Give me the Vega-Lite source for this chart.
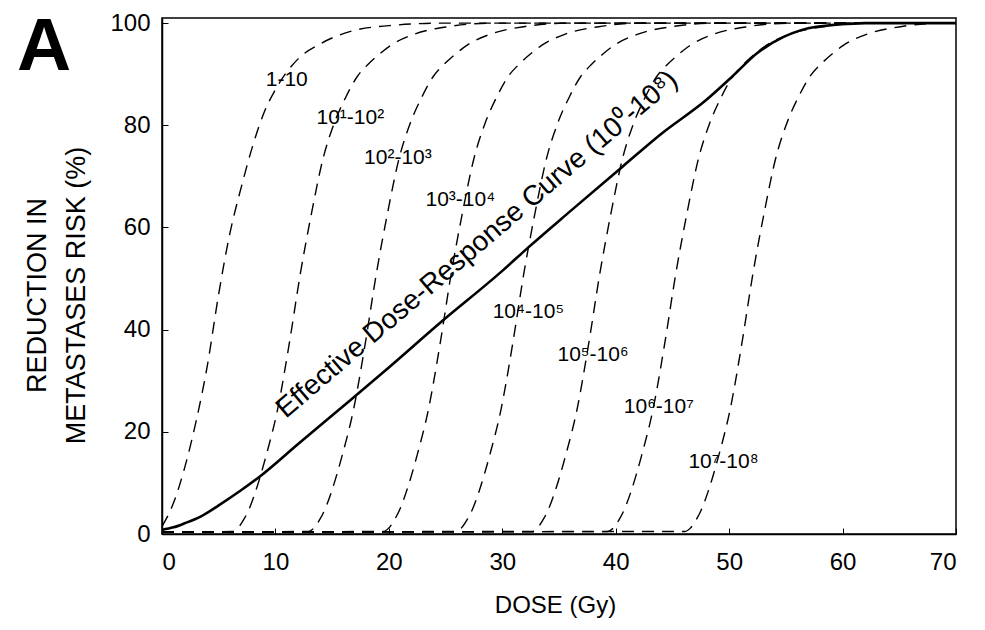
{
  "$schema": "https://vega.github.io/schema/vega-lite/v6.json",
  "autosize": {"type": "none"},
  "padding": {"left": 162, "top": 18, "right": 29, "bottom": 96},
  "width": 794,
  "height": 516,
  "background": "white",
  "title": {"text": "A", "fontSize": 75, "fontWeight": "bold", "font": "Liberation Sans", "color": "black", "anchor": "start", "frame": "group", "align": "center", "baseline": "alphabetic", "offset": -134, "dx": -118},
  "config": {
    "view": {"stroke": "black", "strokeWidth": 1.5},
    "font": "Liberation Sans",
    "axis": {"grid": false, "domainColor": "black", "domainWidth": 1.5, "tickColor": "black", "labelColor": "black", "titleColor": "black", "labelFont": "Liberation Sans", "titleFont": "Liberation Sans", "titleFontWeight": "normal", "labelFontSize": 24}
  },
  "datasets": {
    "curves": [
      {"s": "c1", "x": 0, "y": 1.5}, {"s": "c1", "x": 0.5, "y": 3.5}, {"s": "c1", "x": 1, "y": 6}, {"s": "c1", "x": 2, "y": 13}, {"s": "c1", "x": 3, "y": 22}, {"s": "c1", "x": 4, "y": 33}, {"s": "c1", "x": 5, "y": 47}, {"s": "c1", "x": 6, "y": 59}, {"s": "c1", "x": 7, "y": 68}, {"s": "c1", "x": 8, "y": 76}, {"s": "c1", "x": 9, "y": 82.5}, {"s": "c1", "x": 10, "y": 87}, {"s": "c1", "x": 12, "y": 93}, {"s": "c1", "x": 14, "y": 96}, {"s": "c1", "x": 17, "y": 98.6}, {"s": "c1", "x": 20, "y": 99.5}, {"s": "c1", "x": 25, "y": 100}, {"s": "c1", "x": 70, "y": 100},

      {"s": "c2", "x": 0, "y": 0.4}, {"s": "c2", "x": 6.2, "y": 0.5}, {"s": "c2", "x": 6.7, "y": 1.2}, {"s": "c2", "x": 7.2, "y": 2.8}, {"s": "c2", "x": 7.7, "y": 5}, {"s": "c2", "x": 8.2, "y": 8}, {"s": "c2", "x": 9.2, "y": 15.5}, {"s": "c2", "x": 10.2, "y": 24.5}, {"s": "c2", "x": 11.2, "y": 37}, {"s": "c2", "x": 12.2, "y": 51}, {"s": "c2", "x": 13.2, "y": 63}, {"s": "c2", "x": 14.2, "y": 73.5}, {"s": "c2", "x": 15.2, "y": 80.5}, {"s": "c2", "x": 16.2, "y": 85.5}, {"s": "c2", "x": 17.2, "y": 89.5}, {"s": "c2", "x": 18.2, "y": 92}, {"s": "c2", "x": 19.2, "y": 94}, {"s": "c2", "x": 20.2, "y": 95.7}, {"s": "c2", "x": 22.2, "y": 97.8}, {"s": "c2", "x": 25.2, "y": 99.3}, {"s": "c2", "x": 29.2, "y": 100}, {"s": "c2", "x": 70, "y": 100},

      {"s": "c3", "x": 0, "y": 0.4}, {"s": "c3", "x": 12.9, "y": 0.5}, {"s": "c3", "x": 13.4, "y": 1.2}, {"s": "c3", "x": 13.9, "y": 2.8}, {"s": "c3", "x": 14.4, "y": 5}, {"s": "c3", "x": 14.9, "y": 8}, {"s": "c3", "x": 15.9, "y": 15.5}, {"s": "c3", "x": 16.9, "y": 24.5}, {"s": "c3", "x": 17.9, "y": 37}, {"s": "c3", "x": 18.9, "y": 51}, {"s": "c3", "x": 19.9, "y": 63}, {"s": "c3", "x": 20.9, "y": 73.5}, {"s": "c3", "x": 21.9, "y": 80.5}, {"s": "c3", "x": 22.9, "y": 85.5}, {"s": "c3", "x": 23.9, "y": 89.5}, {"s": "c3", "x": 24.9, "y": 92}, {"s": "c3", "x": 25.9, "y": 94}, {"s": "c3", "x": 26.9, "y": 95.7}, {"s": "c3", "x": 28.9, "y": 97.8}, {"s": "c3", "x": 31.9, "y": 99.3}, {"s": "c3", "x": 35.9, "y": 100}, {"s": "c3", "x": 70, "y": 100},

      {"s": "c4", "x": 0, "y": 0.4}, {"s": "c4", "x": 19.5, "y": 0.5}, {"s": "c4", "x": 20, "y": 1.2}, {"s": "c4", "x": 20.5, "y": 2.8}, {"s": "c4", "x": 21, "y": 5}, {"s": "c4", "x": 21.5, "y": 8}, {"s": "c4", "x": 22.5, "y": 15.5}, {"s": "c4", "x": 23.5, "y": 24.5}, {"s": "c4", "x": 24.5, "y": 37}, {"s": "c4", "x": 25.5, "y": 51}, {"s": "c4", "x": 26.5, "y": 63}, {"s": "c4", "x": 27.5, "y": 73.5}, {"s": "c4", "x": 28.5, "y": 80.5}, {"s": "c4", "x": 29.5, "y": 85.5}, {"s": "c4", "x": 30.5, "y": 89.5}, {"s": "c4", "x": 31.5, "y": 92}, {"s": "c4", "x": 32.5, "y": 94}, {"s": "c4", "x": 33.5, "y": 95.7}, {"s": "c4", "x": 35.5, "y": 97.8}, {"s": "c4", "x": 38.5, "y": 99.3}, {"s": "c4", "x": 42.5, "y": 100}, {"s": "c4", "x": 70, "y": 100},

      {"s": "c5", "x": 0, "y": 0.4}, {"s": "c5", "x": 25.9, "y": 0.5}, {"s": "c5", "x": 26.4, "y": 1.2}, {"s": "c5", "x": 26.9, "y": 2.8}, {"s": "c5", "x": 27.4, "y": 5}, {"s": "c5", "x": 27.9, "y": 8}, {"s": "c5", "x": 28.9, "y": 15.5}, {"s": "c5", "x": 29.9, "y": 24.5}, {"s": "c5", "x": 30.9, "y": 37}, {"s": "c5", "x": 31.9, "y": 51}, {"s": "c5", "x": 32.9, "y": 63}, {"s": "c5", "x": 33.9, "y": 73.5}, {"s": "c5", "x": 34.9, "y": 80.5}, {"s": "c5", "x": 35.9, "y": 85.5}, {"s": "c5", "x": 36.9, "y": 89.5}, {"s": "c5", "x": 37.9, "y": 92}, {"s": "c5", "x": 38.9, "y": 94}, {"s": "c5", "x": 39.9, "y": 95.7}, {"s": "c5", "x": 41.9, "y": 97.8}, {"s": "c5", "x": 44.9, "y": 99.3}, {"s": "c5", "x": 48.9, "y": 100}, {"s": "c5", "x": 70, "y": 100},

      {"s": "c6", "x": 0, "y": 0.4}, {"s": "c6", "x": 32.6, "y": 0.5}, {"s": "c6", "x": 33.1, "y": 1.2}, {"s": "c6", "x": 33.6, "y": 2.8}, {"s": "c6", "x": 34.1, "y": 5}, {"s": "c6", "x": 34.6, "y": 8}, {"s": "c6", "x": 35.6, "y": 15.5}, {"s": "c6", "x": 36.6, "y": 24.5}, {"s": "c6", "x": 37.6, "y": 37}, {"s": "c6", "x": 38.6, "y": 51}, {"s": "c6", "x": 39.6, "y": 63}, {"s": "c6", "x": 40.6, "y": 73.5}, {"s": "c6", "x": 41.6, "y": 80.5}, {"s": "c6", "x": 42.6, "y": 85.5}, {"s": "c6", "x": 43.6, "y": 89.5}, {"s": "c6", "x": 44.6, "y": 92}, {"s": "c6", "x": 45.6, "y": 94}, {"s": "c6", "x": 46.6, "y": 95.7}, {"s": "c6", "x": 48.6, "y": 97.8}, {"s": "c6", "x": 51.6, "y": 99.3}, {"s": "c6", "x": 55.6, "y": 100}, {"s": "c6", "x": 70, "y": 100},

      {"s": "c7", "x": 0, "y": 0.4}, {"s": "c7", "x": 39.3, "y": 0.5}, {"s": "c7", "x": 39.8, "y": 1.2}, {"s": "c7", "x": 40.3, "y": 2.8}, {"s": "c7", "x": 40.8, "y": 5}, {"s": "c7", "x": 41.3, "y": 8}, {"s": "c7", "x": 42.3, "y": 15.5}, {"s": "c7", "x": 43.3, "y": 24.5}, {"s": "c7", "x": 44.3, "y": 37}, {"s": "c7", "x": 45.3, "y": 51}, {"s": "c7", "x": 46.3, "y": 63}, {"s": "c7", "x": 47.3, "y": 73.5}, {"s": "c7", "x": 48.3, "y": 80.5}, {"s": "c7", "x": 49.3, "y": 85.5}, {"s": "c7", "x": 50.3, "y": 89.5}, {"s": "c7", "x": 51.3, "y": 92}, {"s": "c7", "x": 52.3, "y": 94}, {"s": "c7", "x": 53.3, "y": 95.7}, {"s": "c7", "x": 55.3, "y": 97.8}, {"s": "c7", "x": 58.3, "y": 99.3}, {"s": "c7", "x": 62.3, "y": 100}, {"s": "c7", "x": 70, "y": 100},

      {"s": "c8", "x": 0, "y": 0.4}, {"s": "c8", "x": 46.1, "y": 0.5}, {"s": "c8", "x": 46.6, "y": 1.2}, {"s": "c8", "x": 47.1, "y": 2.8}, {"s": "c8", "x": 47.6, "y": 5}, {"s": "c8", "x": 48.1, "y": 8}, {"s": "c8", "x": 49.1, "y": 15.5}, {"s": "c8", "x": 50.1, "y": 24.5}, {"s": "c8", "x": 51.1, "y": 37}, {"s": "c8", "x": 52.1, "y": 51}, {"s": "c8", "x": 53.1, "y": 63}, {"s": "c8", "x": 54.1, "y": 73.5}, {"s": "c8", "x": 55.1, "y": 80.5}, {"s": "c8", "x": 56.1, "y": 85.5}, {"s": "c8", "x": 57.1, "y": 89.5}, {"s": "c8", "x": 58.1, "y": 92}, {"s": "c8", "x": 59.1, "y": 94}, {"s": "c8", "x": 60.1, "y": 95.7}, {"s": "c8", "x": 62.1, "y": 97.8}, {"s": "c8", "x": 65.1, "y": 99.3}, {"s": "c8", "x": 69.1, "y": 100}, {"s": "c8", "x": 70, "y": 100}
    ],
    "effective": [
      {"x": 0, "y": 0.8}, {"x": 1, "y": 1.3}, {"x": 2, "y": 2.1}, {"x": 3.4, "y": 3.4}, {"x": 5, "y": 5.6}, {"x": 7, "y": 8.6}, {"x": 8.6, "y": 11.2}, {"x": 12, "y": 17.6}, {"x": 16.6, "y": 26.2}, {"x": 20, "y": 32.6}, {"x": 24.5, "y": 41.3}, {"x": 30, "y": 51.5}, {"x": 32.4, "y": 56.3}, {"x": 36, "y": 63.2}, {"x": 40.6, "y": 71.9}, {"x": 44, "y": 78.3}, {"x": 48, "y": 85}, {"x": 50.3, "y": 89.6}, {"x": 52.4, "y": 94}, {"x": 54.8, "y": 97.3}, {"x": 57.7, "y": 99.3}, {"x": 62, "y": 100}, {"x": 70, "y": 100}
    ],
    "labels": [
      {"t": "1-10", "x": 11.0, "y": 88.8},
      {"t": "10¹-10²", "x": 16.6, "y": 81.4},
      {"t": "10²-10³", "x": 20.8, "y": 73.5},
      {"t": "10³-10⁴", "x": 26.3, "y": 65.4},
      {"t": "10⁴-10⁵", "x": 32.3, "y": 43.5},
      {"t": "10⁵-10⁶", "x": 38.0, "y": 35},
      {"t": "10⁶-10⁷", "x": 43.8, "y": 24.9},
      {"t": "10⁷-10⁸", "x": 49.5, "y": 14.1}
    ],
    "curveLabel": [
      {"t": "Effective Dose-Response Curve (10⁰-10⁸)", "x": 27.8, "y": 56.6}
    ]
  },
  "encoding": {
    "x": {"field": "x", "type": "quantitative", "scale": {"domain": [0, 70], "nice": false, "zero": false},
          "axis": {"values": [0, 10, 20, 30, 40, 50, 60, 70], "title": "DOSE (Gy)", "titleFontSize": 24, "titleX": 393, "titleY": 71, "titleBaseline": "middle", "titleAlign": "center", "tickSize": -6, "labelPadding": 22}},
    "y": {"field": "y", "type": "quantitative", "scale": {"domain": [0, 101], "nice": false},
          "axis": {"values": [0, 20, 40, 60, 80, 100], "title": ["REDUCTION IN", "METASTASES RISK (%)"], "titleFontSize": 27, "titleX": -125, "titleY": 277, "titleAngle": -90, "titleBaseline": "middle", "titleAlign": "center", "titleLineHeight": 39, "tickSize": -6, "labelPadding": 18}}
  },
  "layer": [
    {"data": {"name": "curves"}, "mark": {"type": "line", "color": "black", "strokeWidth": 1.4, "strokeDash": [12, 8], "interpolate": "monotone"},
     "encoding": {"detail": {"field": "s", "type": "nominal"}}},
    {"data": {"name": "effective"}, "mark": {"type": "line", "color": "black", "strokeWidth": 2.6, "interpolate": "monotone"}, "encoding": {}},
    {"data": {"name": "labels"}, "mark": {"type": "text", "fontSize": 21, "font": "Liberation Sans", "color": "black", "align": "center", "baseline": "middle"},
     "encoding": {"text": {"field": "t", "type": "nominal"}}},
    {"data": {"name": "curveLabel"}, "mark": {"type": "text", "fontSize": 28, "font": "Liberation Sans", "color": "black", "align": "center", "baseline": "middle", "angle": -40.5},
     "encoding": {"text": {"field": "t", "type": "nominal"}}}
  ]
}
